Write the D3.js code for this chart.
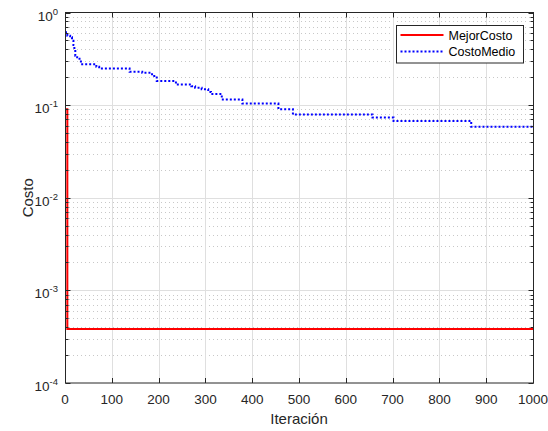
<!DOCTYPE html>
<html>
<head>
<meta charset="utf-8">
<script src="https://cdn.jsdelivr.net/npm/d3@7/dist/d3.min.js"></script>
<style>
  html, body { margin: 0; padding: 0; background: #fff; }
  svg { display: block; font-family: "Liberation Sans", Arial, Helvetica, sans-serif; }
</style>
</head>
<body>
<svg id="chart" width="548" height="431"></svg>
<script>
// Best cost per iteration (step changes: iteration where the value starts)
const mejorIter  = [0, 5];
const mejorCosto = [0.0905, 0.000382];

// Mean population cost per iteration (step changes)
const medioIter  = [0, 5, 11, 15, 18, 20, 22, 26, 31, 34, 67, 73, 138, 165, 186, 196, 237, 270, 278, 292, 306, 312, 335, 379, 456, 487, 657, 702, 868];
const costoMedio = [0.611, 0.561, 0.539, 0.496, 0.445, 0.400, 0.341, 0.328, 0.306, 0.277, 0.259, 0.249, 0.229, 0.223, 0.206, 0.182, 0.167, 0.160, 0.154, 0.148, 0.139, 0.132, 0.115, 0.104, 0.0905, 0.0793, 0.0736, 0.0676, 0.0583];

const maxIter = 1000;
const xTicks = [0, 100, 200, 300, 400, 500, 600, 700, 800, 900, 1000];
const yDecades = [0, -1, -2, -3, -4];
const seriesNames = ["MejorCosto", "CostoMedio"];
const seriesColors = ["#ff0000", "#0000ff"];
const xLabel = "Iteración";
const yLabel = "Costo";

const svg = d3.select("#chart");
const W = 548, H = 431;
const m = { left: 65, right: 15, top: 12.5, bottom: 48 };
const pw = W - m.left - m.right;   // plot width
const ph = H - m.top - m.bottom;   // plot height

const x = d3.scaleLinear().domain([0, maxIter]).range([m.left, m.left + pw]);
const y = d3.scaleLog().domain([1e-4, 1]).range([m.top + ph, m.top]);

const axisColor = "#262626";
const gridColor = "#dfdfdf";

svg.append("rect").attr("width", W).attr("height", H).attr("fill", "#fff");

// minor grid (dotted) on the log axis
const minorVals = [];
for (const d of yDecades.slice(1)) {
  for (let k = 2; k <= 9; k++) minorVals.push(k * Math.pow(10, d));
}
const gMinor = svg.append("g");
gMinor.selectAll("line").data(minorVals).join("line")
  .attr("x1", m.left).attr("x2", m.left + pw)
  .attr("y1", d => Math.round(y(d)) + 0.5).attr("y2", d => Math.round(y(d)) + 0.5)
  .attr("stroke", "#c8c8c8").attr("stroke-width", 1).attr("stroke-dasharray", "1,3");

// major grid
const gMajor = svg.append("g");
gMajor.selectAll("line.v").data(xTicks.slice(1, -1)).join("line").attr("class", "v")
  .attr("x1", d => Math.round(x(d)) + 0.5).attr("x2", d => Math.round(x(d)) + 0.5)
  .attr("y1", m.top).attr("y2", m.top + ph)
  .attr("stroke", gridColor).attr("stroke-width", 1);
gMajor.selectAll("line.h").data(yDecades.slice(1, -1).map(d => Math.pow(10, d))).join("line").attr("class", "h")
  .attr("x1", m.left).attr("x2", m.left + pw)
  .attr("y1", d => Math.round(y(d)) + 0.5).attr("y2", d => Math.round(y(d)) + 0.5)
  .attr("stroke", gridColor).attr("stroke-width", 1);

// data lines
svg.append("clipPath").attr("id", "plotClip").append("rect")
  .attr("x", m.left).attr("y", m.top).attr("width", pw).attr("height", ph);

function stepPoints(iters, vals) {
  const pts = iters.map((it, i) => [it, vals[i]]);
  pts.push([maxIter, vals[vals.length - 1]]);
  return pts;
}
const line = d3.line().x(d => x(d[0])).y(d => y(d[1])).curve(d3.curveStepAfter);

const gLines = svg.append("g").attr("clip-path", "url(#plotClip)");
gLines.append("path").datum(stepPoints(medioIter, costoMedio))
  .attr("d", line).attr("fill", "none")
  .attr("stroke", seriesColors[1]).attr("stroke-width", 2).attr("stroke-dasharray", "2,2");
gLines.append("path").datum(stepPoints(mejorIter, mejorCosto))
  .attr("d", line).attr("fill", "none")
  .attr("stroke", seriesColors[0]).attr("stroke-width", 2);

// axes box with inward ticks on all sides
const gAx = svg.append("g").attr("stroke", axisColor).attr("stroke-width", 1);
const L = m.left + 0.5, R = m.left + pw + 0.5, T = m.top, B = m.top + ph;
gAx.append("rect").attr("x", L).attr("y", T).attr("width", R - L).attr("height", B - T)
  .attr("fill", "none");
const majLen = 5, minLen = 3;
xTicks.forEach(t => {
  const xx = Math.round(x(t)) + 0.5;
  gAx.append("line").attr("x1", xx).attr("x2", xx).attr("y1", B).attr("y2", B - majLen);
  gAx.append("line").attr("x1", xx).attr("x2", xx).attr("y1", T).attr("y2", T + majLen);
});
yDecades.forEach(d => {
  const yy = Math.round(y(Math.pow(10, d))) + 0.5;
  gAx.append("line").attr("x1", L).attr("x2", L + majLen).attr("y1", yy).attr("y2", yy);
  gAx.append("line").attr("x1", R).attr("x2", R - majLen).attr("y1", yy).attr("y2", yy);
});
minorVals.forEach(v => {
  const yy = Math.round(y(v)) + 0.5;
  gAx.append("line").attr("x1", L).attr("x2", L + minLen).attr("y1", yy).attr("y2", yy);
  gAx.append("line").attr("x1", R).attr("x2", R - minLen).attr("y1", yy).attr("y2", yy);
});

// tick labels
const tickFont = 13.5;
svg.append("g").selectAll("text").data(xTicks).join("text")
  .attr("x", d => x(d)).attr("y", B + 21)
  .attr("text-anchor", "middle").attr("font-size", tickFont).attr("fill", axisColor)
  .text(d => d);

const yl = svg.append("g").selectAll("text").data(yDecades).join("text")
  .attr("x", m.left - 7).attr("y", d => y(Math.pow(10, d)) + 8)
  .attr("text-anchor", "end").attr("font-size", tickFont).attr("fill", axisColor);
yl.append("tspan").text("10");
yl.append("tspan").attr("dy", -6).attr("font-size", 9.5).text(d => d);

// axis titles
svg.append("text").attr("x", x(maxIter / 2)).attr("y", 424)
  .attr("text-anchor", "middle").attr("font-size", 15).attr("fill", axisColor).text(xLabel);
svg.append("text").attr("transform", `translate(33,${y(Math.pow(10, -2))}) rotate(-90)`)
  .attr("text-anchor", "middle").attr("font-size", 15).attr("fill", axisColor).text(yLabel);

// legend
const lg = svg.append("g").attr("transform", "translate(396.5,25.5)");
lg.append("rect").attr("width", 127).attr("height", 37.5)
  .attr("fill", "#fff").attr("stroke", axisColor).attr("stroke-width", 1);
seriesNames.forEach((name, i) => {
  const cy = 9.5 + i * 16.5;
  lg.append("line").attr("x1", 4).attr("x2", 47).attr("y1", cy).attr("y2", cy)
    .attr("stroke", seriesColors[i]).attr("stroke-width", 2)
    .attr("stroke-dasharray", i === 1 ? "2,2" : null);
  lg.append("text").attr("x", 52).attr("y", cy + 4.5).attr("font-size", 12.5)
    .attr("fill", "#000").text(name);
});
</script>
</body>
</html>
